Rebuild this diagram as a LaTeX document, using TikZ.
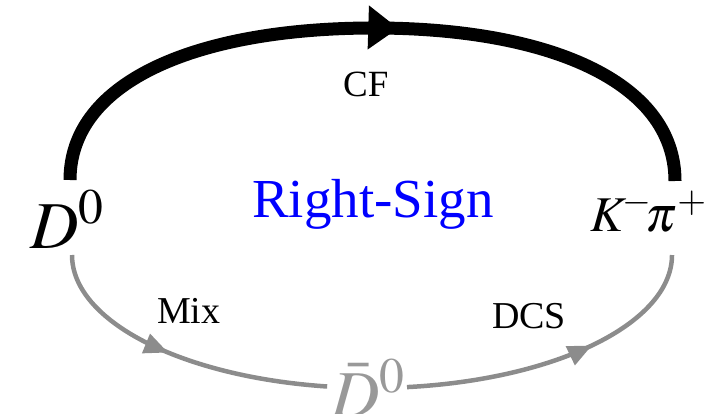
\documentclass[tikz,border=0pt]{standalone}
\usepackage{mathptmx}
\usepackage[no-math]{fontspec}
\setmainfont{Liberation Serif}
\usetikzlibrary{arrows.meta,decorations.markings}
\begin{document}
\begin{tikzpicture}[x=1pt,y=1pt,
  cfline/.style={line width=13pt,black},
  dcsline/.style={line width=4.5pt,black!45},
  lbl/.style={anchor=base west,inner sep=0pt},
  arrowat/.style 2 args={postaction={decorate},decoration={markings,
      mark=at position #1 with {\arrow{#2}}}}]
\useasboundingbox (0,0) rectangle (725,413);
% labels
\node[lbl,font=\fontsize{67}{70}\selectfont] (D0) at (30,165) {$D^0$};
\node[lbl,font=\fontsize{50}{56}\selectfont] (K) at (590,182) {$K^{\!-}\!\pi^{+}$};
\node[lbl,font=\fontsize{55}{60}\selectfont,text=blue] (RS) at (252,196) {Right-Sign};
\node[lbl,font=\fontsize{37}{40}\selectfont] (CF) at (343,316) {CF};
\node[lbl,font=\fontsize{38}{40}\selectfont] (Mix) at (157,90) {Mix};
\node[lbl,font=\fontsize{38}{40}\selectfont] (DCS) at (492,85) {DCS};
\node[lbl,font=\fontsize{67}{70}\selectfont,text=black!40] (Db) at (331,-4) {$\bar D^0$};
% connector end points
\coordinate (a1) at (70,233);
\coordinate (top) at (374,385);
\coordinate (a2) at (675,232);
\coordinate (b1) at (72,158);
\coordinate (b2) at (672,158);
% CF arc
\draw[cfline,arrowat={0.534}{Triangle[length=30pt,width=42pt]}]
  (a1) .. controls (70,333) and (200,385) .. (top)
       .. controls (545,385) and (675,333) .. (a2);
% Mix arc
\draw[dcsline,arrowat={0.47}{Triangle[length=24pt,width=20pt]}]
  (b1) arc[start angle=180,end angle=261.4,x radius=300pt,y radius=133pt];
% DCS arc
\draw[dcsline,arrowat={0.6}{Triangle[length=24pt,width=20pt]}]
  (407,25.9) arc[start angle=276.7,end angle=360,x radius=300pt,y radius=133pt];
\end{tikzpicture}
\end{document}
